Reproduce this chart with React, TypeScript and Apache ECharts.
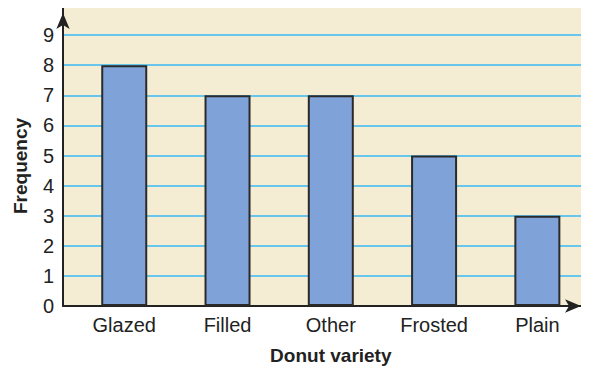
import React, { useEffect, useRef } from "react";
import * as echarts from "echarts";

const varieties = ["Glazed", "Filled", "Other", "Frosted", "Plain"];
const frequencies = [8, 7, 7, 5, 3];
const yTicks = [0, 1, 2, 3, 4, 5, 6, 7, 8, 9];

const FONT = "'Liberation Sans', Arial, Helvetica, sans-serif";
const INK = "#222222";
const GRID_BLUE = "#66C6EB";

export default function App() {
  const ref = useRef<HTMLDivElement>(null);

  useEffect(() => {
    if (!ref.current) return;
    const chart = echarts.init(ref.current, null, { renderer: "svg" });
    const yMax = 10;
    // one split line per tick; the line at the top edge stays invisible
    const splitColors = [] as string[];
    for (let v = 0; v <= yMax; v++) splitColors.push(yTicks.includes(v) ? GRID_BLUE : "rgba(0,0,0,0)");

    chart.setOption({
      animation: false,
      grid: [
        // frame: background, horizontal rules and arrowed axes
        { left: 63, right: 0, top: 5, bottom: 68, show: true, backgroundColor: "#F5EDD3", borderWidth: 0 },
        // bars and category labels
        { left: 72.6, right: -2.4, top: 5, bottom: 68 },
      ],
      graphic: [
        {
          type: "text",
          x: 20,
          y: 166,
          rotation: Math.PI / 2,
          style: {
            text: "Frequency",
            fontSize: 19,
            fontWeight: "bold",
            fontFamily: FONT,
            fill: INK,
            align: "center",
            verticalAlign: "middle",
          },
        },
      ],
      xAxis: [
        {
          gridIndex: 0,
          type: "value",
          min: 0,
          max: 1,
          axisLine: {
            show: true,
            symbol: ["none", "arrow"],
            symbolSize: [10, 16],
            symbolOffset: [0, -8],
            lineStyle: { color: INK, width: 2 },
          },
          axisTick: { show: false },
          axisLabel: { show: false },
          splitLine: { show: false },
        },
        {
          gridIndex: 1,
          type: "category",
          data: varieties,
          axisLine: { show: false },
          axisTick: { show: false },
          axisLabel: { fontSize: 20, color: INK, fontFamily: FONT, margin: 9 },
          name: "Donut variety",
          nameLocation: "middle",
          nameGap: 40,
          nameTextStyle: { fontSize: 19, fontWeight: "bold", color: INK, fontFamily: FONT },
        },
      ],
      yAxis: [
        {
          gridIndex: 0,
          type: "value",
          min: 0,
          max: yMax,
          interval: 1,
          axisLine: {
            show: true,
            symbol: ["none", "arrow"],
            symbolSize: [10, 16],
            symbolOffset: [0, -8],
            lineStyle: { color: INK, width: 2 },
          },
          axisTick: { show: false },
          axisLabel: {
            fontSize: 20,
            color: INK,
            fontFamily: FONT,
            margin: 9,
            formatter: (v: number) => (yTicks.includes(v) ? String(v) : ""),
          },
          splitLine: { show: true, lineStyle: { color: splitColors, width: 2 } },
        },
        {
          gridIndex: 1,
          type: "value",
          min: 0,
          max: yMax,
          show: false,
          splitLine: { show: false },
        },
      ],
      series: [
        {
          type: "bar",
          xAxisIndex: 1,
          yAxisIndex: 1,
          data: frequencies,
          barWidth: 46,
          itemStyle: { color: "#7FA3D8", borderColor: "#2A2A2A", borderWidth: 2 },
        },
      ],
    });
    return () => chart.dispose();
  }, []);

  return <div ref={ref} style={{ width: 589, height: 374, margin: -8 }} />;
}
